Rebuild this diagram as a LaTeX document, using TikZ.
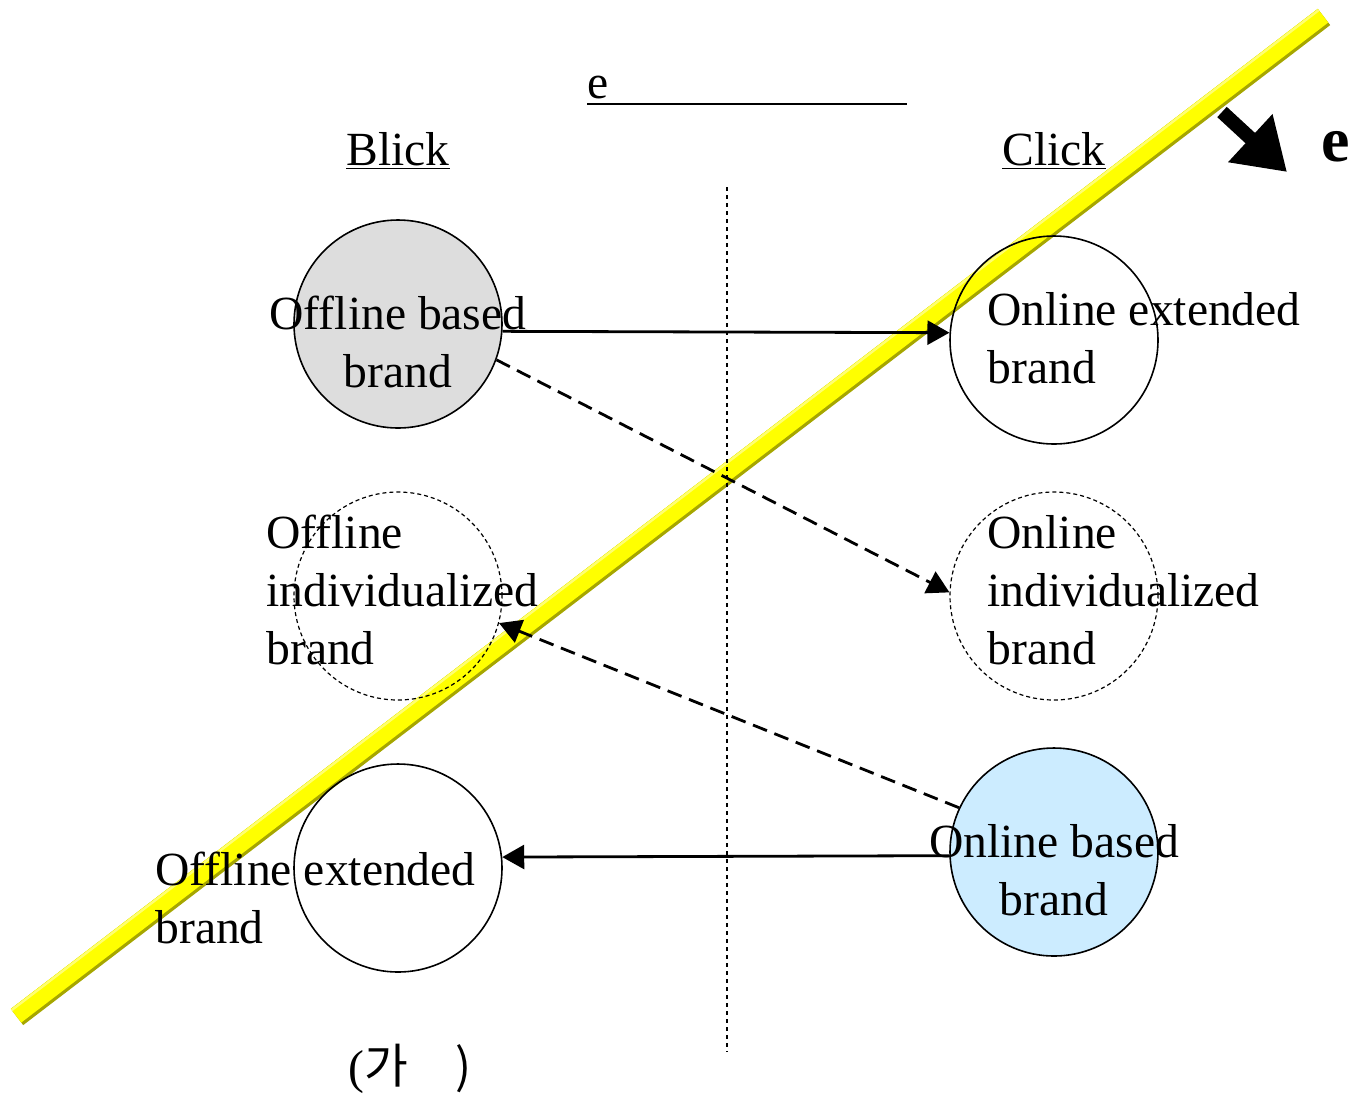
\documentclass[tikz,border=0pt]{standalone}
\usepackage{fontspec}
\setmainfont{Liberation Serif}
\newfontfamily\cjk{Noto Sans CJK KR}
\usetikzlibrary{arrows.meta, calc}
\definecolor{barYellow}{HTML}{FFFF00}
\definecolor{barShade}{HTML}{A6A600}
\definecolor{barLight}{HTML}{FFFF70}
\definecolor{offlineGray}{HTML}{DDDDDD}
\definecolor{onlineBlue}{HTML}{CCECFF}

\begin{document}
\begin{tikzpicture}[x=0.5pt, y=-0.5pt,
  brandcircle/.style={circle, draw, line width=0.8pt, minimum size=104pt, inner sep=0pt},
  ghostcircle/.style={brandcircle, line width=0.6pt, dash pattern=on 2pt off 1.5pt},
  brandtext/.style={font=\fontsize{23.8}{29}\selectfont, inner sep=0pt},
  linkarrow/.style={line width=1.4pt, -{Triangle[length=11pt,width=12pt]}},
  dasharrow/.style={linkarrow, dash pattern=on 7.5pt off 4pt}]
  \useasboundingbox (0,0) rectangle (1353,1094);
  % Yellow bar
  \coordinate (barA) at (17,1017);
  \coordinate (barB) at (1324,17);
  \draw[line width=10.2pt, barShade] (barA) -- (barB);
  \draw[line width=8.6pt, barYellow] ($(barA)+(-1,-1.3)$) -- ($(barB)+(-1,-1.3)$);
  \draw[line width=1.2pt, barLight] ($(barA)+(-5.3,-6.9)$) -- ($(barB)+(-5.3,-6.9)$);
  % Divider
  \draw[line width=0.6pt, dash pattern=on 2pt off 2pt] (727,187) -- (727,1052);
  % Headings
  \node[brandtext, anchor=base] (blick) at (398,165) {\underline{Blick}};
  \node[brandtext, anchor=base] (click) at (1054,165) {\underline{Click}};
  \node[brandtext, anchor=base west] (etop) at (587,98) {e};
  \coordinate (eline) at (907,104);
  \draw[line width=1.3pt] (etop.base west |- eline) -- (eline);
  % Circles
  \node[brandcircle, fill=offlineGray] (offbased) at (398,324) {};
  \node[brandcircle] (onext) at (1054,340) {};
  \node[ghostcircle] (offind) at (398,596) {};
  \node[ghostcircle] (onind) at (1054,596) {};
  \node[brandcircle] (offext) at (398,868) {};
  \node[brandcircle, fill=onlineBlue] (onbased) at (1054,852) {};
  % Labels (base = last line)
  \node[brandtext, align=center, anchor=base] (offbasedtxt) at (398,387) {Offline based\\brand};
  \node[brandtext, align=left, anchor=base west] (onexttxt) at (987,383) {Online extended\\brand};
  \node[brandtext, align=left, anchor=base west] (offindtxt) at (266,664) {Offline\\individualized\\brand};
  \node[brandtext, align=left, anchor=base west] (onindtxt) at (987,664) {Online\\individualized\\brand};
  \node[brandtext, align=left, anchor=base west] (offexttxt) at (155,943) {Offline extended\\brand};
  \node[brandtext, align=center, anchor=base] (onbasedtxt) at (1054,915) {Online based\\brand};
  % Connectors
  \draw[linkarrow] (offbased.-4) -- (onext.176);
  \draw[dasharrow] (offbased.-20) -- (onind.178);
  \draw[dasharrow] (onbased.155) -- (offind.-15);
  \draw[linkarrow] (onbased.182) -- (offext.6);
  % Shift arrow
  \coordinate (shiftA) at (1222,112);
  \coordinate (shiftB) at (1287,172);
  \draw[line width=7pt, -{Triangle[length=25pt,width=31pt]}] (shiftA) -- (shiftB);
  \node[font=\fontsize{32}{38}\selectfont\bfseries, anchor=base west, inner sep=0pt] (eright) at (1321,161) {e};
  % Caption
  \node[brandtext, anchor=base] (caption) at (410,1083) {(\cjk{가}\quad)};
\end{tikzpicture}
\end{document}
